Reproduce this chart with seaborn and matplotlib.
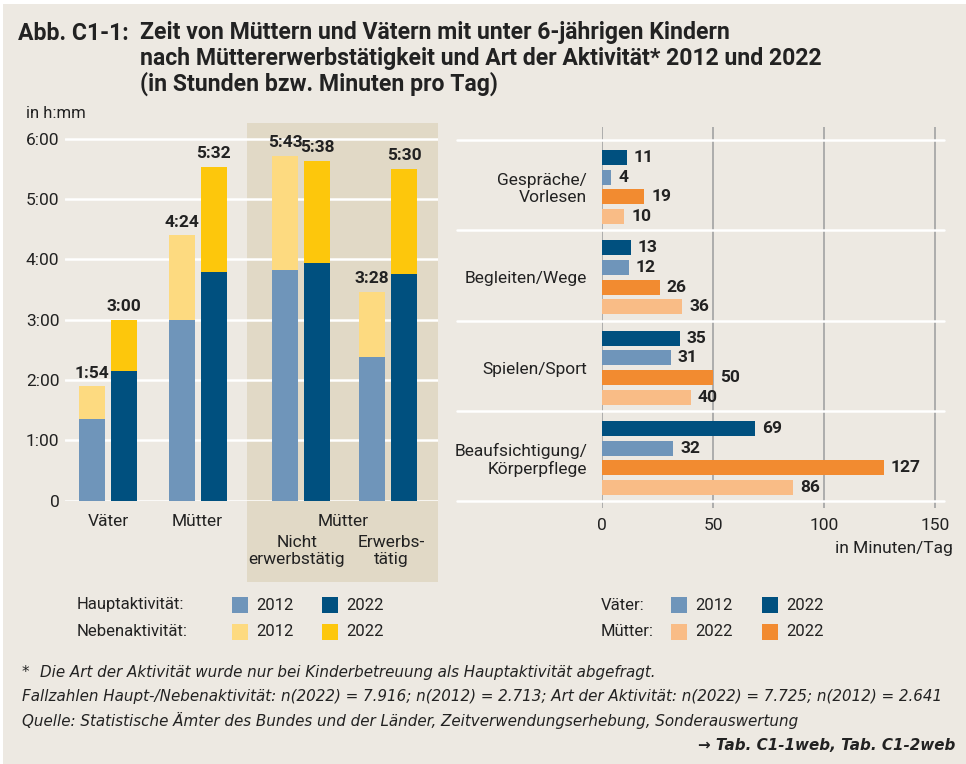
import pandas as pd
import matplotlib.pyplot as plt
import matplotlib.transforms as mtransforms
from matplotlib import font_manager
from matplotlib.patches import Rectangle
from matplotlib.ticker import FuncFormatter
import seaborn as sns

# Left chart: minutes per day (Hauptaktivität and total incl. Nebenaktivität)
gruppen = ["Väter", "Mütter", "Nicht erwerbstätig", "Erwerbstätig"]
haupt_2012 = [81, 180, 229, 143]
haupt_2022 = [129, 227, 236, 225]
gesamt_2012 = [114, 264, 343, 208]
gesamt_2022 = [180, 332, 338, 330]

# Right chart: minutes per day by activity
kategorien = ["Gespräche/\nVorlesen", "Begleiten/Wege", "Spielen/Sport",
              "Beaufsichtigung/\nKörperpflege"]
vaeter_2022 = [11, 13, 35, 69]
vaeter_2012 = [4, 12, 31, 32]
muetter_2022 = [19, 26, 50, 127]
muetter_2012 = [10, 36, 40, 86]

# Colours
BG = "#EDE9E2"
SHADE = "#E1D9C6"
TXT = "#222222"
BLUE_L = "#6F95BA"
BLUE_D = "#00507F"
YEL_L = "#FDDA80"
YEL_D = "#FDC70C"
ORA_L = "#F9BC86"
ORA_D = "#F28B30"

sns.set_theme(style="white")
installed = {f.name for f in font_manager.fontManager.ttflist}
fam = [f for f in ["Roboto", "Liberation Sans"] if f in installed][:1] + ["DejaVu Sans"]
plt.rcParams["font.family"] = fam
plt.rcParams["text.color"] = TXT
plt.rcParams["axes.labelcolor"] = TXT
plt.rcParams["xtick.color"] = TXT
plt.rcParams["ytick.color"] = TXT
plt.rcParams["patch.edgecolor"] = "none"

FS = 12.5      # labels
FS_VAL = 12.5  # value labels
FS_LEG = 12

W, H = 966, 764
fig = plt.figure(figsize=(W / 100, H / 100), dpi=100, facecolor="white")
fig.patches.append(Rectangle((3 / W, 0), 1, (H - 4) / H, transform=fig.transFigure,
                             facecolor=BG, edgecolor="none", zorder=-10))


def fx(x):
    return x / W


def fy(y):
    return 1 - y / H


# Title
fig.text(fx(18), fy(33), "Abb. C1-1:", fontsize=16.6, fontweight="bold", va="center")
titel = ["Zeit von Müttern und Vätern mit unter 6-jährigen Kindern",
         "nach Müttererwerbstätigkeit und Art der Aktivität* 2012 und 2022",
         "(in Stunden bzw. Minuten pro Tag)"]
for i, t in enumerate(titel):
    fig.text(fx(140), fy(33 + i * 25.5), t, fontsize=16.6, fontweight="bold", va="center")

# ---------------- left chart ----------------
ax1 = fig.add_axes([fx(65), fy(500.7), fx(438 - 65), (500.7 - 123) / H])
ax1.set_facecolor("none")
pos = [0, 2.8, 6.03, 8.75]
bw = 0.8125
x12 = [p - 0.5 for p in pos]
x22 = [p + 0.5 for p in pos]
ax1.bar(x12, [g / 60 for g in gesamt_2012], width=bw, color=YEL_L, linewidth=0, zorder=2)
ax1.bar(x12, [h / 60 for h in haupt_2012], width=bw, color=BLUE_L, linewidth=0, zorder=3)
ax1.bar(x22, [g / 60 for g in gesamt_2022], width=bw, color=YEL_D, linewidth=0, zorder=2)
ax1.bar(x22, [h / 60 for h in haupt_2022], width=bw, color=BLUE_D, linewidth=0, zorder=3)
for xs, tot in [(x12, gesamt_2012), (x22, gesamt_2022)]:
    for x, t in zip(xs, tot):
        ax1.annotate(f"{t // 60}:{t % 60:02d}", (x, t / 60), xytext=(0, 4),
                     textcoords="offset points", ha="center", va="bottom",
                     fontsize=FS_VAL, fontweight="bold")

ax1.set_xlim(-1.34, 10.31)
ax1.set_ylim(0, 6.26)
ax1.set_yticks(range(0, 7))
ax1.yaxis.set_major_formatter(FuncFormatter(lambda v, _: "0" if v == 0 else f"{int(v)}:00"))
ax1.tick_params(axis="y", length=0, pad=4, labelsize=FS)
ax1.set_xticks([])
ax1.yaxis.grid(True, color="white", linewidth=1.8)
ax1.set_axisbelow(True)
for s in ax1.spines.values():
    s.set_visible(False)

trans1 = mtransforms.blended_transform_factory(ax1.transData, ax1.transAxes)
ax1.add_patch(Rectangle((4.34, -0.215), 10.31 - 4.34, 1.215, transform=trans1,
                        facecolor=SHADE, edgecolor="none", clip_on=False, zorder=0))
ax1.text(pos[0], -0.054, "Väter", transform=trans1, ha="center", va="center", fontsize=FS)
ax1.text(pos[1], -0.054, "Mütter", transform=trans1, ha="center", va="center", fontsize=FS)
ax1.text(7.34, -0.054, "Mütter", transform=trans1, ha="center", va="center", fontsize=FS)
ax1.text(5.9, -0.133, "Nicht\nerwerbstätig", transform=trans1, ha="center", va="center",
         fontsize=FS, linespacing=1.1)
ax1.text(8.84, -0.133, "Erwerbs-\ntätig", transform=trans1, ha="center", va="center",
         fontsize=FS, linespacing=1.1)
fig.text(fx(26), fy(113), "in h:mm", fontsize=12, va="center")

# ---------------- right chart ----------------
ax2 = fig.add_axes([fx(602.3), fy(508), fx(341.7), 381 / H])
ax2.set_facecolor("none")
reihen = ["Väter 2022", "Väter 2012", "Mütter 2022", "Mütter 2012"]
werte = [vaeter_2022, vaeter_2012, muetter_2022, muetter_2012]
df = pd.DataFrame({
    "Kategorie": kategorien * 4,
    "Gruppe": [r for r in reihen for _ in kategorien],
    "Minuten": [v for w in werte for v in w],
})
sns.barplot(data=df, x="Minuten", y="Kategorie", hue="Gruppe", hue_order=reihen,
            order=kategorien, orient="h",
            palette={"Väter 2022": BLUE_D, "Väter 2012": BLUE_L,
                     "Mütter 2022": ORA_D, "Mütter 2012": ORA_L},
            width=0.87, gap=0.24, saturation=1, legend=False, linewidth=0,
            ax=ax2, zorder=3)
for c in ax2.containers:
    ax2.bar_label(c, padding=5, fontsize=FS_VAL, fontweight="bold")

ax2.set_xlim(0, 154.2)
ax2.set_ylim(3.554, -0.664)
ax2.set_xlabel("")
ax2.set_ylabel("")
ax2.set_xticks([0, 50, 100, 150])
ax2.tick_params(axis="x", length=0, pad=7, labelsize=FS)
ax2.tick_params(axis="y", length=0, pad=11, labelsize=FS)
for lab in ax2.get_yticklabels():
    lab.set_multialignment("right")
    lab.set_linespacing(1.15)
ax2.xaxis.grid(True, color="#A8A8A8", linewidth=1.3)
ax2.yaxis.grid(False)
ax2.set_axisbelow(True)
for s in ax2.spines.values():
    s.set_visible(False)
for k in range(5):
    ax2.axhline(k - 0.52, xmin=-0.425, xmax=1.0, color="white", linewidth=1.8,
                clip_on=False, zorder=1)
fig.text(fx(953), fy(548), "in Minuten/Tag", fontsize=FS, ha="right", va="center")

# ---------------- legends ----------------
def swatch(x, y, color):
    fig.patches.append(Rectangle((fx(x), fy(y + 8)), fx(16), 16 / H,
                                 transform=fig.transFigure, facecolor=color,
                                 edgecolor="none"))


legend_rows = [
    (77, 605, "Hauptaktivität:", [(232, BLUE_L, "2012"), (322, BLUE_D, "2022")]),
    (77, 632, "Nebenaktivität:", [(232, YEL_L, "2012"), (322, YEL_D, "2022")]),
    (601, 605, "Väter:", [(671, BLUE_L, "2012"), (762, BLUE_D, "2022")]),
    (601, 632, "Mütter:", [(671, ORA_L, "2022"), (762, ORA_D, "2022")]),
]
for x, y, label, items in legend_rows:
    fig.text(fx(x), fy(y), label, fontsize=FS_LEG, va="center")
    for sx, col, txt in items:
        swatch(sx, y, col)
        fig.text(fx(sx + 24), fy(y), txt, fontsize=FS_LEG, va="center")

# ---------------- footnotes ----------------
foot = dict(fontsize=10.9, style="italic", va="center", family=["DejaVu Sans"])
fig.text(fx(22), fy(672), "*", **foot)
fig.text(fx(40), fy(672), "Die Art der Aktivität wurde nur bei Kinderbetreuung als "
         "Hauptaktivität abgefragt.", **foot)
fig.text(fx(22), fy(696), "Fallzahlen Haupt-/Nebenaktivität: n(2022) = 7.916; n(2012) = 2.713; "
         "Art der Aktivität: n(2022) = 7.725; n(2012) = 2.641", **foot)
fig.text(fx(22), fy(720), "Quelle: Statistische Ämter des Bundes und der Länder, "
         "Zeitverwendungserhebung, Sonderauswertung", **foot)
fig.text(fx(955), fy(745), "→ Tab. C1-1web, Tab. C1-2web", fontsize=10.9, style="italic",
         fontweight="bold", ha="right", va="center", family=["DejaVu Sans"])

fig.savefig("out.png", dpi=100, facecolor="white")
